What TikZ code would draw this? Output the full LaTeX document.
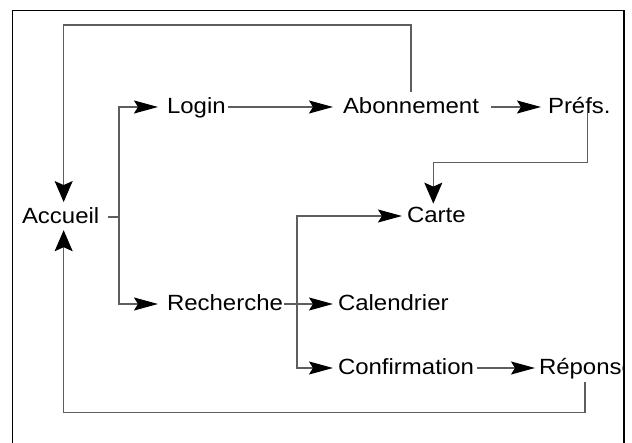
\documentclass[tikz,border=0pt]{standalone}
\usepackage{fontspec}
\setmainfont[FakeStretch=1.09]{Liberation Sans}
\usetikzlibrary{arrows.meta}
\definecolor{linegray}{HTML}{5E5E5E}
\begin{document}
\begin{tikzpicture}[x=1pt,y=-1pt,
  lbl/.style={anchor=base west, inner sep=0pt, outer sep=0pt, font=\fontsize{22}{26}\selectfont},
  conn/.style={draw=linegray, line width=1.3pt},
  harr/.style={conn, -{Stealth[length=24pt,width=13pt,inset=4pt,black]}},
  varr/.style={conn, -{Stealth[length=21pt,width=18pt,inset=4pt,black]}}]
\fill[white] (0,0) rectangle (632,443);
\useasboundingbox (0,0) rectangle (632,443);
% nodes
\node[lbl] (acc) at (22,224) {Accueil};
\node[lbl] (login) at (167,114) {Login};
\node[lbl] (abo) at (343,114) {Abonnement};
\node[lbl] (prefs) at (548,114) {Préfs.};
\node[lbl] (carte) at (407,223) {Carte};
\node[lbl] (rech) at (167,311) {Recherche};
\node[lbl] (cal) at (338,311) {Calendrier};
\node[lbl] (conf) at (338,375) {Confirmation};
\begin{scope}
\clip (0,0) rectangle (624,443);
\node[lbl] (rep) at (539,375) {Réponse};
\end{scope}
\coordinate (ja) at (119,217);
\coordinate (jr) at (297,304);
% connectors
\draw[conn] ([xshift=9pt,yshift=7pt]acc.base east) -- (ja);
\draw[harr] (ja) |- ([xshift=-9pt,yshift=7pt]login.base west);
\draw[harr] (ja) |- ([xshift=-9pt,yshift=7pt]rech.base west);
\draw[harr] ([xshift=2pt,yshift=7pt]login.base east) -- ([xshift=-10pt,yshift=7pt]abo.base west);
\draw[harr] ([xshift=12pt,yshift=7pt]abo.base east) -- ([xshift=-7pt,yshift=7pt]prefs.base west);
\draw[varr] ([xshift=8pt,yshift=2pt]prefs.south) -- ++(0,50) -| ([xshift=-3pt,yshift=4pt]carte.north);
\draw[varr] ([yshift=6pt]abo.north) -- ++(0,-67) -| ([xshift=3pt,yshift=6pt]acc.north);
\draw[varr] ([xshift=-2pt,yshift=-2pt]rep.south) -- ++(0,31) -| ([xshift=3pt,yshift=-6pt]acc.south);
\draw[conn] ([xshift=1pt,yshift=7pt]rech.base east) -- (jr);
\draw[harr] (jr) -- ([xshift=-5pt,yshift=7pt]cal.base west);
\draw[harr] (jr) |- ([xshift=-5pt,yshift=7pt]conf.base west);
\draw[harr] (jr) |- ([xshift=-5pt,yshift=7pt]carte.base west);
\draw[harr] ([xshift=3pt,yshift=7pt]conf.base east) -- ([xshift=-4pt,yshift=7pt]rep.base west);
% frame
\draw[line width=1.5pt] (12.5,443) -- (12.5,10.5) -- (624,10.5) -- (624,443);
\end{tikzpicture}
\end{document}
